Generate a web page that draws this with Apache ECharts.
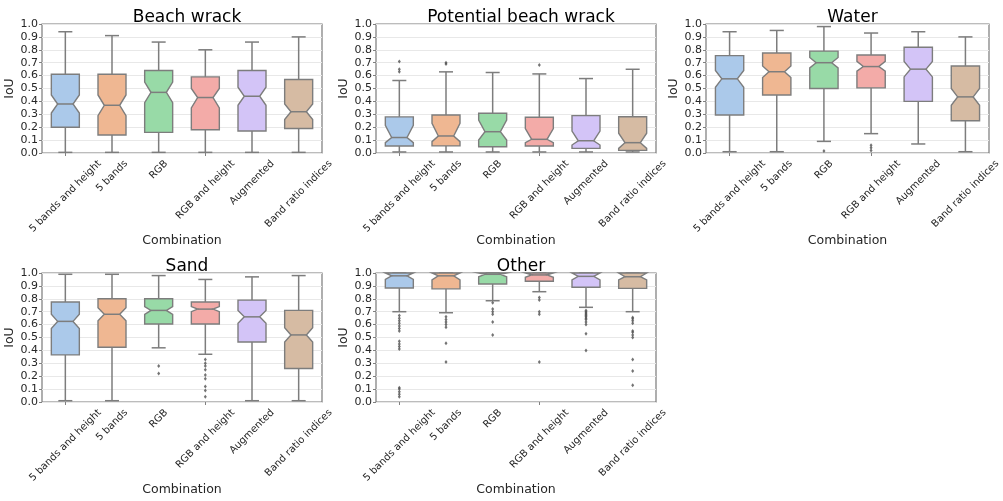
<!DOCTYPE html>
<html>
<head>
<meta charset="utf-8">
<script src="https://cdn.jsdelivr.net/npm/echarts@6/dist/echarts.min.js"></script>
<style>
  html, body { margin: 0; padding: 0; background: #ffffff; }
  #chart { width: 1003px; height: 501px; }
</style>
</head>
<body>
<div id="chart"></div>
<script>
// Feature combinations compared in every panel
const categories = ['5 bands and height', '5 bands', 'RGB', 'RGB and height', 'Augmented', 'Band ratio indices'];
const panelTitles = ['Beach wrack', 'Potential beach wrack', 'Water', 'Sand', 'Other'];
const yTickValues = [0, 0.1, 0.2, 0.3, 0.4, 0.5, 0.6, 0.7, 0.8, 0.9, 1.0];

// IoU summary per combination:
// [lower whisker, Q1, notch low, median, notch high, Q3, upper whisker]
const beachWrackStats = [
  [0.005, 0.20, 0.31, 0.38, 0.45, 0.61, 0.94],
  [0.005, 0.14, 0.29, 0.37, 0.45, 0.61, 0.91],
  [0.005, 0.16, 0.39, 0.47, 0.55, 0.64, 0.86],
  [0.005, 0.18, 0.35, 0.43, 0.50, 0.59, 0.80],
  [0.005, 0.17, 0.37, 0.44, 0.51, 0.64, 0.86],
  [0.005, 0.19, 0.26, 0.32, 0.38, 0.57, 0.90]
];
const beachWrackOutliers = [[], [], [], [], [], []];

const potentialWrackStats = [
  [0.008, 0.054, 0.080, 0.120, 0.215, 0.280, 0.562],
  [0.008, 0.055, 0.088, 0.132, 0.230, 0.295, 0.629],
  [0.008, 0.049, 0.100, 0.165, 0.256, 0.308, 0.624],
  [0.008, 0.054, 0.080, 0.106, 0.190, 0.277, 0.613],
  [0.008, 0.036, 0.062, 0.095, 0.170, 0.290, 0.577],
  [0.008, 0.020, 0.036, 0.080, 0.153, 0.281, 0.649]
];
const potentialWrackOutliers = [[0.63, 0.65, 0.71], [0.69, 0.70], [], [0.683], [], []];

const waterStats = [
  [0.010, 0.295, 0.510, 0.575, 0.640, 0.755, 0.94],
  [0.010, 0.450, 0.585, 0.630, 0.675, 0.775, 0.95],
  [0.090, 0.500, 0.660, 0.700, 0.740, 0.790, 0.98],
  [0.150, 0.505, 0.635, 0.670, 0.710, 0.760, 0.93],
  [0.070, 0.400, 0.590, 0.650, 0.710, 0.820, 0.94],
  [0.010, 0.250, 0.370, 0.435, 0.500, 0.675, 0.90]
];
const waterOutliers = [[], [], [0.015], [0.02, 0.04, 0.06], [], []];

const sandStats = [
  [0.010, 0.365, 0.570, 0.625, 0.680, 0.775, 0.99],
  [0.010, 0.425, 0.630, 0.680, 0.730, 0.800, 0.99],
  [0.420, 0.605, 0.680, 0.710, 0.740, 0.800, 0.98],
  [0.370, 0.605, 0.700, 0.720, 0.740, 0.775, 0.95],
  [0.010, 0.465, 0.610, 0.660, 0.710, 0.790, 0.97],
  [0.010, 0.260, 0.465, 0.520, 0.575, 0.710, 0.98]
];
const sandOutliers = [
  [], [], [0.22, 0.28],
  [0.04, 0.09, 0.12, 0.18, 0.21, 0.25, 0.28, 0.30, 0.33],
  [], []
];

const otherStats = [
  [0.700, 0.884, 0.950, 0.978, 1.0, 1.0, 1.0],
  [0.692, 0.877, 0.946, 0.978, 1.0, 1.0, 1.0],
  [0.785, 0.915, 0.971, 0.990, 1.0, 1.0, 1.0],
  [0.855, 0.936, 0.967, 0.985, 1.0, 1.0, 1.0],
  [0.734, 0.889, 0.946, 0.974, 1.0, 1.0, 1.0],
  [0.700, 0.881, 0.946, 0.971, 1.0, 1.0, 1.0]
];
const otherOutliers = [
  [0.04, 0.06, 0.08, 0.10, 0.11, 0.41, 0.43, 0.45, 0.47, 0.55, 0.57, 0.59, 0.61, 0.63, 0.65, 0.67],
  [0.31, 0.455, 0.58, 0.60, 0.62, 0.64, 0.66],
  [0.52, 0.62, 0.68, 0.70, 0.72, 0.77],
  [0.31, 0.68, 0.70, 0.79, 0.81],
  [0.40, 0.53, 0.60, 0.62, 0.64, 0.65, 0.66, 0.67, 0.68, 0.69, 0.70, 0.71],
  [0.13, 0.24, 0.33, 0.50, 0.52, 0.54, 0.55, 0.61, 0.63, 0.645, 0.655]
];

// Muted pastel fill per combination
const boxColors = ['#abc9ea', '#efb792', '#98daa7', '#f3aba8', '#d3c4f7', '#d6bba3'];

const panelStats = [beachWrackStats, potentialWrackStats, waterStats, sandStats, otherStats];
const panelOutliers = [beachWrackOutliers, potentialWrackOutliers, waterOutliers, sandOutliers, otherOutliers];

const FONT = 'DejaVu Sans';
const EDGE = '#7d7d7d';
const TEXT = '#262626';
const LABEL_SIZE = 10;
const BOX_RATIO = 0.6;

const gridRects = [
  { left: 42,  top: 24,  width: 280, height: 129 },
  { left: 376, top: 24,  width: 280, height: 129 },
  { left: 706, top: 24,  width: 283, height: 129 },
  { left: 42,  top: 273, width: 280, height: 129 },
  { left: 376, top: 273, width: 280, height: 129 }
];

const measureCtx = document.createElement('canvas').getContext('2d');
function textWidth(str, size) {
  measureCtx.font = size + 'px "' + FONT + '"';
  return measureCtx.measureText(str).width;
}

// Notched box with whiskers and caps for one combination
function renderBox(params, api) {
  const idx = api.value(0);
  const y = k => api.coord([idx, api.value(k)])[1];
  const cx = api.coord([idx, 0])[0];
  const band = api.size([1, 0])[0];
  const half = band * BOX_RATIO / 2;
  const waist = half * 0.55;
  const cap = half * 0.5;
  const lo = y(1), q1 = y(2), nlo = y(3), med = y(4), nhi = y(5), q3 = y(6), hi = y(7);
  const L = cx - half, R = cx + half;
  const lineStyle = { stroke: EDGE, lineWidth: 1.5 };
  return {
    type: 'group',
    children: [
      { type: 'line', shape: { x1: cx, y1: q1, x2: cx, y2: lo }, style: lineStyle },
      { type: 'line', shape: { x1: cx, y1: q3, x2: cx, y2: hi }, style: lineStyle },
      { type: 'line', shape: { x1: cx - cap, y1: lo, x2: cx + cap, y2: lo }, style: lineStyle },
      { type: 'line', shape: { x1: cx - cap, y1: hi, x2: cx + cap, y2: hi }, style: lineStyle },
      {
        type: 'polygon',
        shape: {
          points: [
            [L, q1], [R, q1], [R, nlo], [cx + waist, med], [R, nhi], [R, q3],
            [L, q3], [L, nhi], [cx - waist, med], [L, nlo]
          ]
        },
        style: { fill: boxColors[idx], stroke: EDGE, lineWidth: 1.4 }
      },
      { type: 'line', shape: { x1: cx - waist, y1: med, x2: cx + waist, y2: med }, style: lineStyle }
    ]
  };
}

// Rotated category label, centred under its tick
function renderLabel(params, api) {
  const idx = api.value(0);
  const p = api.coord([idx, 0]);
  const text = categories[idx];
  const w = textWidth(text, LABEL_SIZE);
  const h = LABEL_SIZE * 1.15;
  const drop = 0.3536 * (w + h);
  return {
    type: 'text',
    x: p[0],
    y: p[1] + 5 + drop,
    rotation: Math.PI / 4,
    style: {
      text: text,
      align: 'center',
      verticalAlign: 'middle',
      font: LABEL_SIZE + 'px "' + FONT + '"',
      fill: TEXT
    }
  };
}

const grids = [], xAxes = [], yAxes = [], titles = [], series = [];

gridRects.forEach((r, g) => {
  grids.push(Object.assign({ show: true, borderColor: '#7a7a7a', borderWidth: 1.2, backgroundColor: 'transparent' }, r));
  titles.push({
    text: panelTitles[g],
    left: r.left + r.width / 2,
    top: r.top - 20,
    textAlign: 'center',
    textStyle: { fontFamily: FONT, fontSize: 17, fontWeight: 'normal', color: '#000' }
  });
  xAxes.push({
    type: 'category',
    gridIndex: g,
    data: categories,
    name: 'Combination',
    nameLocation: 'middle',
    nameGap: 81,
    nameTextStyle: { fontFamily: FONT, fontSize: 12.5, color: TEXT },
    axisLine: { show: false },
    axisTick: { show: true, alignWithLabel: true, length: 3, lineStyle: { color: '#808080' } },
    axisLabel: { show: false },
    splitLine: { show: false }
  });
  yAxes.push({
    type: 'value',
    gridIndex: g,
    min: 0,
    max: 1,
    interval: 0.1,
    name: 'IoU',
    nameLocation: 'middle',
    nameGap: 21,
    nameTextStyle: { fontFamily: FONT, fontSize: 12.5, color: TEXT },
    axisLine: { show: false },
    axisTick: { show: true, length: 3, lineStyle: { color: '#808080' } },
    axisLabel: {
      margin: 4,
      fontFamily: FONT,
      fontSize: 11,
      color: TEXT,
      formatter: v => (yTickValues.includes(Math.round(v * 10) / 10) ? v.toFixed(1) : '')
    },
    splitLine: { show: true, lineStyle: { color: '#e8e8e8', width: 1 } }
  });

  series.push({
    type: 'custom',
    xAxisIndex: g,
    yAxisIndex: g,
    renderItem: renderBox,
    encode: { x: 0, y: [1, 2, 3, 4, 5, 6, 7] },
    data: panelStats[g].map((s, i) => [i].concat(s)),
    z: 3
  });

  const pts = [];
  panelOutliers[g].forEach((vals, i) => vals.forEach(v => pts.push([i, v])));
  series.push({
    type: 'scatter',
    xAxisIndex: g,
    yAxisIndex: g,
    symbol: 'diamond',
    symbolSize: [3, 4],
    itemStyle: { color: '#505050' },
    data: pts,
    z: 4
  });

  series.push({
    type: 'custom',
    xAxisIndex: g,
    yAxisIndex: g,
    renderItem: renderLabel,
    encode: { x: 0, y: 1 },
    data: categories.map((c, i) => [i, 0]),
    clip: false,
    silent: true,
    z: 5
  });
});

const chart = echarts.init(document.getElementById('chart'), null, { renderer: 'canvas' });
chart.setOption({
  animation: false,
  backgroundColor: '#ffffff',
  title: titles,
  grid: grids,
  xAxis: xAxes,
  yAxis: yAxes,
  series: series
});
</script>
</body>
</html>
